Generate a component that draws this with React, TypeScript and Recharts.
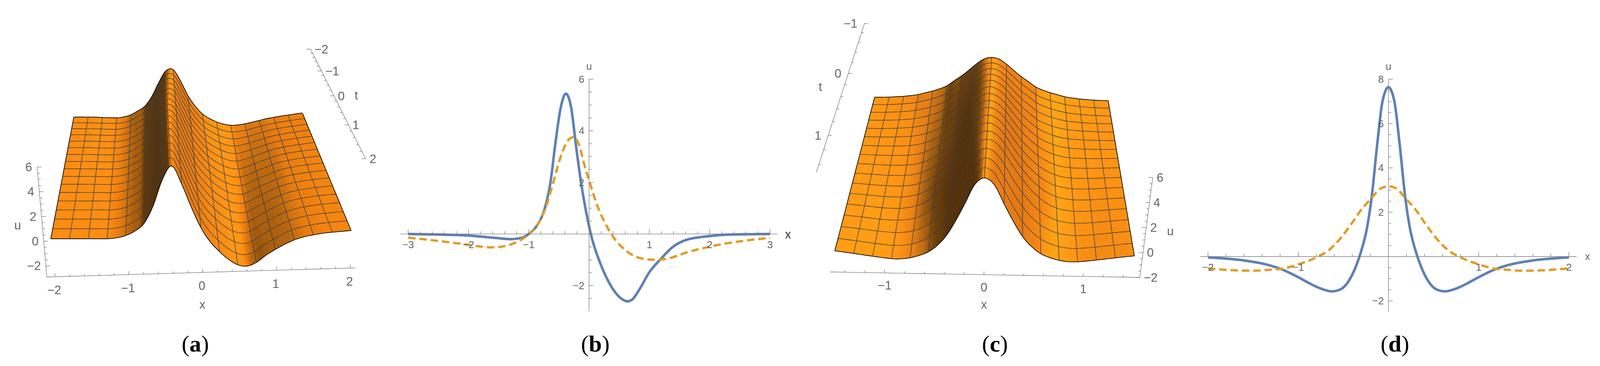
import React from 'react';
import { ComposedChart, Line, Scatter, ScatterChart, XAxis, YAxis } from 'recharts';

// panel (a): surface read at five t rows, far edge first
const xGridA = [-2, -1.875, -1.75, -1.625, -1.5, -1.375, -1.25, -1.125, -1, -0.875, -0.75, -0.625, -0.5, -0.375, -0.25, -0.125, 0, 0.125, 0.25, 0.375, 0.5, 0.625, 0.75, 0.875, 1, 1.125, 1.25, 1.375, 1.5, 1.625, 1.75, 1.875, 2];
const uA_tm2 = [0, -0.01, -0.03, -0.05, -0.1, -0.14, -0.16, -0.08, 0.14, 0.55, 1.05, 2.1, 3.6, 4.85, 4.95, 3.7, 2.1, 0.95, 0.1, -0.42, -0.8, -1.05, -1.2, -1.17, -1.07, -0.9, -0.73, -0.55, -0.42, -0.3, -0.2, -0.1, 0];
const uA_tm1 = [0, -0.01, -0.03, -0.05, -0.09, -0.12, -0.14, -0.07, 0.13, 0.5, 1.05, 2.2, 3.9, 5.1, 4.8, 3.3, 1.7, 0.6, -0.25, -0.8, -1.2, -1.5, -1.6, -1.45, -1.25, -1, -0.75, -0.55, -0.4, -0.27, -0.17, -0.08, 0];
const uA_t0 = [0, -0.01, -0.03, -0.05, -0.08, -0.11, -0.13, -0.07, 0.12, 0.48, 1.05, 2.3, 4.2, 5.35, 4.6, 2.9, 1.25, 0.2, -0.6, -1.2, -1.65, -1.9, -1.95, -1.7, -1.35, -1.05, -0.75, -0.5, -0.35, -0.23, -0.14, -0.06, 0];
const uA_t1 = [0, -0.02, -0.04, -0.06, -0.08, -0.1, -0.12, -0.07, 0.11, 0.46, 1.05, 2.35, 4.35, 5.5, 4.35, 2.55, 0.9, -0.2, -1, -1.65, -2.1, -2.3, -2.2, -1.8, -1.4, -1, -0.68, -0.45, -0.3, -0.19, -0.11, -0.05, 0];
const uA_t2 = [0, -0.02, -0.04, -0.06, -0.08, -0.1, -0.12, -0.07, 0.1, 0.45, 1.05, 2.45, 4.5, 5.6, 4.1, 2.2, 0.55, -0.6, -1.4, -2.05, -2.5, -2.63, -2.35, -1.8, -1.35, -0.95, -0.62, -0.4, -0.26, -0.15, -0.09, -0.04, 0];

// panel (c): symmetric, far edge first, values from the ridge side out
const xGridC = [-1.6, -1.5, -1.4, -1.3, -1.2, -1.1, -1, -0.9, -0.8, -0.7, -0.6, -0.5, -0.4, -0.3, -0.2, -0.1, 0, 0.1, 0.2, 0.3, 0.4, 0.5, 0.6, 0.7, 0.8, 0.9, 1, 1.1, 1.2, 1.3, 1.4, 1.5, 1.6];
const uC_far = [0, 0.01, 0.03, 0.08, 0.14, 0.23, 0.35, 0.55, 0.75, 1, 1.33, 1.88, 2.4, 3.02, 3.68, 4.2, 4.37];
const uC_mid1 = [0, -0.01, 0, 0.02, 0.05, 0.1, 0.17, 0.3, 0.5, 0.78, 1.15, 1.75, 2.4, 3.2, 4.05, 4.7, 4.95];
const uC_mid2 = [0, -0.03, -0.06, -0.09, -0.1, -0.1, -0.07, 0.02, 0.22, 0.55, 1, 1.6, 2.35, 3.3, 4.35, 5.1, 5.4];
const uC_mid3 = [0, -0.06, -0.12, -0.2, -0.27, -0.3, -0.3, -0.22, -0.05, 0.28, 0.8, 1.5, 2.4, 3.4, 4.6, 5.5, 5.8];
const uC_near = [0, -0.08, -0.18, -0.28, -0.38, -0.47, -0.55, -0.55, -0.45, -0.25, 0.05, 0.6, 1.4, 2.6, 4, 5.5, 6.05];

// panel (b)
const bBlueX = [-3, -2.5, -1.99, -1.6, -1.295, -1.12, -0.99, -0.86, -0.73, -0.644, -0.557, -0.47, -0.384, -0.297, -0.21, -0.124, -0.037, 0.05, 0.18, 0.31, 0.44, 0.55, 0.635, 0.72, 0.83, 1, 1.18, 1.395, 1.61, 2, 2.35, 3];
const bBlueU = [0, -0.02, -0.06, -0.14, -0.2, -0.15, 0.02, 0.34, 1.03, 1.94, 3.54, 4.9, 5.44, 4.9, 3.3, 1.86, 0.72, -0.19, -1.1, -1.79, -2.28, -2.53, -2.61, -2.53, -2.17, -1.48, -0.99, -0.49, -0.23, -0.08, -0.02, 0];
const bOrangeX = [-3, -2.64, -2.12, -1.6, -1.38, -1.165, -0.99, -0.86, -0.73, -0.6, -0.47, -0.34, -0.254, -0.167, -0.08, 0.03, 0.136, 0.267, 0.4, 0.614, 0.874, 1.09, 1.31, 1.61, 2, 2.48, 3];
const bOrangeU = [-0.14, -0.23, -0.38, -0.52, -0.46, -0.27, 0, 0.34, 0.95, 1.94, 3, 3.65, 3.76, 3.46, 2.7, 1.86, 1.1, 0.42, -0.11, -0.65, -0.95, -1, -0.95, -0.72, -0.49, -0.29, -0.15];
const bXLabels = [-3, -2, -1, 1, 2, 3];
const bULabels = [-2, 2, 4, 6];

// panel (d)
const dBlueX = [-2, -1.594, -1.36, -1.18, -1, -0.86, -0.74, -0.625, -0.536, -0.448, -0.36, -0.3, -0.24, -0.184, -0.125, -0.066, 0, 0.066, 0.125, 0.184, 0.24, 0.3, 0.36, 0.448, 0.536, 0.625, 0.74, 0.86, 1, 1.18, 1.36, 1.594, 2];
const dBlueU = [-0.04, -0.18, -0.35, -0.58, -0.93, -1.24, -1.46, -1.57, -1.49, -1.15, -0.44, 0.27, 1.24, 2.74, 5.04, 7, 7.64, 7, 5.04, 2.74, 1.24, 0.27, -0.44, -1.15, -1.49, -1.57, -1.46, -1.24, -0.93, -0.58, -0.35, -0.18, -0.04];
const dOrangeX = [-2, -1.8, -1.5, -1.3, -1.18, -1, -0.8, -0.654, -0.536, -0.42, -0.3, -0.184, -0.095, 0, 0.095, 0.184, 0.3, 0.42, 0.536, 0.654, 0.8, 1, 1.18, 1.3, 1.5, 1.8, 2];
const dOrangeU = [-0.53, -0.6, -0.64, -0.59, -0.55, -0.35, -0.04, 0.31, 0.8, 1.42, 2.12, 2.65, 3.05, 3.17, 3.05, 2.65, 2.12, 1.42, 0.8, 0.31, -0.04, -0.35, -0.55, -0.59, -0.64, -0.6, -0.53];
const dXLabels = [-2, -1, 1, 2];
const dULabels = [-2, 2, 4, 6, 8];

const BLUE = '#5E81B5';
const ORANGE = '#E19C24';
const GREY = '#777777';
const TEXT = '#666666';
const MESH = '#3a3f44';
const SANS = '"Liberation Sans", Arial, sans-serif';

type Tick = { x: number; y: number; tx?: number; ty?: number; label?: string; lx?: number; ly?: number; anchor?: string };

const fmt = (v: number) => (v < 0 ? `\u2212${-v}` : `${v}`);
const lerp = (a: number, b: number, w: number) => a + (b - a) * w;

// one tick mark with its optional label, placed by the chart scales
const TickMark = (props: any) => {
  const { cx, cy, payload, fontSize } = props;
  const p: Tick = payload;
  return (
    <g>
      {p.tx || p.ty ? <line x1={cx} y1={cy} x2={cx + (p.tx || 0)} y2={cy + (p.ty || 0)} stroke={GREY} strokeWidth={1.3} /> : null}
      {p.label ? (
        <text x={cx + (p.lx || 0)} y={cy + (p.ly || 0)} textAnchor={(p.anchor as any) || 'middle'} fontSize={fontSize} fontFamily={SANS} fill={TEXT}>
          {p.label}
        </text>
      ) : null}
    </g>
  );
};

const NoDot = () => <g />;

const steps = (from: number, to: number, step: number) => {
  const out: number[] = [];
  const n = Math.round((to - from) / step);
  for (let i = 0; i <= n; i++) out.push(from + (i * (to - from)) / n);
  return out;
};

function Plot2D({ left, top, width, height, x0, y0, xUnit, yUnit, xEnds, uEnds, xMinor, xLabels, uLabels, blue, orange, xName, uName }: any) {
  const xAxisPts: Tick[] = [{ x: xEnds[0], y: 0 }];
  steps(xMinor[0], xMinor[1], xMinor[2]).forEach((v) => {
    if (Math.abs(v) < 1e-6) return;
    const major = xLabels.some((l: number) => Math.abs(l - v) < 1e-6);
    xAxisPts.push({ x: v, y: 0, ty: major ? -12 : -7, label: major ? fmt(v) : undefined, ly: 36 });
  });
  xAxisPts.push({ x: xEnds[1], y: 0 });
  const uAxisPts: Tick[] = [{ x: 0, y: uEnds[0] }];
  steps(uEnds[0], uEnds[1], 0.5).forEach((v) => {
    if (Math.abs(v) < 1e-6 || v === uEnds[0]) return;
    const major = uLabels.includes(v);
    uAxisPts.push({ x: 0, y: v, tx: major ? 11 : 7, label: major ? fmt(v) : undefined, lx: -12, ly: 9, anchor: 'end' });
  });
  uAxisPts.push({ x: 0, y: uEnds[1] });
  const names: Tick[] = [
    { x: xName, y: 0, label: 'x', ly: 8 },
    { x: 0, y: uName, label: 'u', ly: 8 },
  ];
  const blueData = blue[0].map((x: number, i: number) => ({ x, y: blue[1][i] }));
  const orangeData = orange[0].map((x: number, i: number) => ({ x, y: orange[1][i] }));
  return (
    <div style={{ position: 'absolute', left, top }}>
      <ComposedChart width={width} height={height} margin={{ top: 0, right: 0, bottom: 0, left: 0 }}>
        <XAxis hide type="number" dataKey="x" domain={[(left - x0) / xUnit, (left + width - x0) / xUnit]} />
        <YAxis hide type="number" dataKey="y" domain={[(y0 - top - height) / yUnit, (y0 - top) / yUnit]} />
        <Scatter data={xAxisPts} line={{ stroke: GREY, strokeWidth: 1.3 }} shape={<TickMark fontSize={26} />} isAnimationActive={false} />
        <Scatter data={uAxisPts} line={{ stroke: GREY, strokeWidth: 1.3 }} shape={<TickMark fontSize={26} />} isAnimationActive={false} />
        <Scatter data={names} shape={<TickMark fontSize={26} />} isAnimationActive={false} />
        <Line data={blueData} dataKey="y" type="monotone" stroke={BLUE} strokeWidth={6.5} dot={false} isAnimationActive={false} />
        <Line data={orangeData} dataKey="y" type="monotone" stroke={ORANGE} strokeWidth={6} strokeDasharray="19 10" dot={false} isAnimationActive={false} />
      </ComposedChart>
    </div>
  );
}

// ---- 3D panels: Recharts has no 3D, so the (x, t, u) table is projected to the plane here
type View = {
  a: number; // far/near perspective ratio
  fl: number[]; fr: number[]; nl: number[]; nr: number[]; // u=0 corners of the surface
  scale: number; // px per u on the near edge
  v: number[]; // vanishing point of the u direction
};

const depth = (view: View, s: number) => (view.a * s) / (1 - (1 - view.a) * s);

function project(view: View, f: number, s: number, u: number) {
  const q = depth(view, s);
  const lx = lerp(view.fl[0], view.nl[0], q);
  const ly = lerp(view.fl[1], view.nl[1], q);
  const rx = lerp(view.fr[0], view.nr[0], q);
  const ry = lerp(view.fr[1], view.nr[1], q);
  const px = lerp(lx, rx, f);
  const py = lerp(ly, ry, f);
  const dx = px - view.v[0];
  const dy = py - view.v[1];
  const len = Math.hypot(dx, dy);
  const k = (view.scale * view.a) / (1 - (1 - view.a) * s);
  return { x: px + (dx / len) * u * k, y: py + (dy / len) * u * k };
}

const SUB = 4; // fine samples per table step, only for a smooth drawing
const ROW_CELLS = 16;

function catmull(row: number[], i: number, w: number) {
  const p0 = row[Math.max(0, i - 1)];
  const p1 = row[i];
  const p2 = row[Math.min(row.length - 1, i + 1)];
  const p3 = row[Math.min(row.length - 1, i + 2)];
  return 0.5 * (2 * p1 + (p2 - p0) * w + (2 * p0 - 5 * p1 + 4 * p2 - p3) * w * w + (3 * p1 - p0 - 3 * p2 + p3) * w * w * w);
}

function buildSurface(view: View, xGrid: number[], rows: number[][]) {
  const steps_ = xGrid.length - 1;
  const nx = steps_ * SUB + 1;
  const ny = ROW_CELLS + 1;
  const us: number[][] = [];
  const pts: { x: number; y: number }[] = [];
  for (let j = 0; j < ny; j++) {
    const s = j / ROW_CELLS;
    const k = Math.min(rows.length - 2, Math.floor(s * (rows.length - 1)));
    const w = s * (rows.length - 1) - k;
    const row = rows[k].map((v, i) => lerp(v, rows[k + 1][i], w));
    const line: number[] = [];
    for (let i = 0; i < nx; i++) {
      const c = Math.min(steps_ - 1, Math.floor(i / SUB));
      const u = catmull(row, c, i / SUB - c);
      line.push(u);
      pts.push(project(view, i / (nx - 1), s, u));
    }
    us.push(line);
  }
  return { nx, ny, us, pts, dx: (xGrid[1] - xGrid[0]) / SUB };
}

function rampColor(ramp: number[][], slope: number) {
  if (slope <= ramp[0][0]) return `rgb(${ramp[0].slice(1).join(',')})`;
  for (let i = 1; i < ramp.length; i++) {
    if (slope <= ramp[i][0]) {
      const w = (slope - ramp[i - 1][0]) / (ramp[i][0] - ramp[i - 1][0]);
      return `rgb(${[1, 2, 3].map((c) => Math.round(lerp(ramp[i - 1][c], ramp[i][c], w))).join(',')})`;
    }
  }
  return `rgb(${ramp[ramp.length - 1].slice(1).join(',')})`;
}

function surfaceLine(surf: any, ramp: number[][]) {
  return (props: any) => {
    const p = props.points;
    if (!p) return <g />;
    const { nx, ny, us, dx } = surf;
    const at = (i: number, j: number) => p[j * nx + i];
    const cells = [];
    for (let j = 0; j < ny - 1; j++) {
      for (let i = 0; i < nx - 1; i++) {
        const slope = (us[j][i + 1] + us[j + 1][i + 1] - us[j][i] - us[j + 1][i]) / (2 * dx);
        const c = rampColor(ramp, slope);
        const a = at(i, j);
        const b = at(i + 1, j);
        const d = at(i + 1, j + 1);
        const e = at(i, j + 1);
        cells.push(<path key={`c${j}-${i}`} d={`M${a.x} ${a.y}L${b.x} ${b.y}L${d.x} ${d.y}L${e.x} ${e.y}Z`} fill={c} stroke={c} strokeWidth={0.8} />);
      }
    }
    const lines = [];
    for (let j = 0; j < ny; j++) {
      const d = Array.from({ length: nx }, (_, i) => at(i, j)).map((q, i) => `${i ? 'L' : 'M'}${q.x} ${q.y}`).join('');
      const rim = j === 0 || j === ny - 1;
      lines.push(<path key={`r${j}`} d={d} fill="none" stroke={rim ? '#000' : MESH} strokeWidth={rim ? 1.7 : 1.4} />);
    }
    for (let i = 0; i < nx; i += 2 * SUB) {
      const d = Array.from({ length: ny }, (_, j) => at(i, j)).map((q, j) => `${j ? 'L' : 'M'}${q.x} ${q.y}`).join('');
      const rim = i === 0 || i === nx - 1;
      lines.push(<path key={`v${i}`} d={d} fill="none" stroke={rim ? '#000' : MESH} strokeWidth={rim ? 1.7 : 1.4} />);
    }
    return <g>{cells}{lines}</g>;
  };
}

function axisPts(from: number[], to: number[], vFrom: number, vTo: number, minor: number[], majors: number[], tick: number[], minorTick: number[], lab: any, warp?: (w: number) => number) {
  const out: Tick[] = [{ x: from[0], y: from[1] }];
  steps(minor[0], minor[1], minor[2]).forEach((v) => {
    const w0 = (v - vFrom) / (vTo - vFrom);
    const w = warp ? warp(w0) : w0;
    const major = majors.some((m) => Math.abs(m - v) < 1e-6);
    const t = major ? tick : minorTick;
    out.push({
      x: lerp(from[0], to[0], w),
      y: lerp(from[1], to[1], w),
      tx: t[0],
      ty: t[1],
      label: major ? fmt(Math.round(v)) : undefined,
      ...lab,
    });
  });
  out.push({ x: to[0], y: to[1] });
  return out;
}

function Surface3D({ left, width, height, surf, ramp, axes, names }: any) {
  return (
    <div style={{ position: 'absolute', left, top: 0 }}>
      <ScatterChart width={width} height={height} margin={{ top: 0, right: 0, bottom: 0, left: 0 }}>
        <XAxis hide type="number" dataKey="x" domain={[left, left + width]} />
        <YAxis hide type="number" dataKey="y" domain={[0, height]} reversed />
        {axes.map((a: Tick[], i: number) => (
          <Scatter key={i} data={a} line={{ stroke: GREY, strokeWidth: 1.3 }} shape={<TickMark fontSize={31} />} isAnimationActive={false} />
        ))}
        <Scatter data={surf.pts} line={surfaceLine(surf, ramp)} shape={NoDot} isAnimationActive={false} />
        <Scatter data={names} shape={<TickMark fontSize={31} />} isAnimationActive={false} />
      </ScatterChart>
    </div>
  );
}

const viewA: View = { a: 0.74, fl: [189, 300], fr: [774, 289.5], nl: [130, 612], nr: [899, 591], scale: 31.9, v: [510, 5100] };
const viewC: View = { a: 0.76, fl: [2239, 249], fr: [2837, 258], nl: [2137, 643], nr: [2904, 656], scale: 32, v: [2520, 3800] };

const mirrored = (half: number[]) => [...half, ...half.slice(0, -1).reverse()];

const surfA = buildSurface(viewA, xGridA, [uA_tm2, uA_tm1, uA_t0, uA_t1, uA_t2]);
const surfC = buildSurface(viewC, xGridC, [uC_far, uC_mid1, uC_mid2, uC_mid3, uC_near].map(mirrored));

// shade by du/dx: [slope, r, g, b]
const rampA = [[-16, 230, 120, 18], [-8, 240, 130, 18], [-3, 255, 150, 20], [-0.5, 255, 148, 20], [0, 250, 138, 16], [1, 235, 125, 15], [2.5, 185, 103, 15], [4, 160, 88, 13], [7, 100, 58, 10], [16, 85, 48, 8]];
const rampC = [[-16, 235, 125, 20], [-10, 225, 120, 20], [-5, 245, 135, 20], [-2, 255, 165, 20], [0, 255, 150, 20], [0.5, 252, 145, 18], [2, 228, 126, 22], [3.5, 170, 98, 18], [6, 110, 64, 12], [10, 85, 48, 8]];

const axesA = [
  axisPts([120, 710], [910, 686.6], -2.11, 2.07, [-2, 2, 0.2], [-2, -1, 0, 1, 2], [0, -9], [0, -5], { lx: -2, ly: 45 }),
  axisPts([95, 428], [120, 710], 6, -2.9, [6, -2, -0.5], [6, 4, 2, 0, -2], [11, 0], [6, 0], { lx: -13, ly: 11, anchor: 'end' }),
  axisPts([795, 126], [936, 407], -2, 2, [-2, 2, 0.2], [-2, -1, 0, 1, 2], [-10, 0], [-6, 0], { lx: 10, ly: 11, anchor: 'start' }, (w) => depth(viewA, w)),
];
const namesA: Tick[] = [
  { x: 45, y: 588, label: 'u' },
  { x: 518, y: 791, label: 'x' },
  { x: 912, y: 255, label: 't' },
];

const axesC = [
  axisPts([2125, 697], [2918, 711], -1.55, 1.57, [-1.4, 1.4, 0.2], [-1, 0, 1], [0, -8], [0, -5], { lx: 0, ly: 43 }),
  axisPts([2951, 455], [2918, 711], 6, -2, [6, -2, -0.5], [6, 4, 2, 0, -2], [-11, 0], [-6, 0], { lx: 10, ly: 11, anchor: 'start' }),
  axisPts([2213, 60], [2090, 441], -1, 1.5, [-1, 1.4, 0.2], [-1, 0, 1], [9, 0], [6, 0], { lx: -18, ly: 11, anchor: 'end' }, (w) => depth(viewC, w)),
];
const namesC: Tick[] = [
  { x: 2996, y: 603, label: 'u' },
  { x: 2519, y: 791, label: 'x' },
  { x: 2100, y: 233, label: 't' },
  { x: 2017, y: 612, label: 'x' },
];

const captions = [
  { cx: 500, letter: 'a' },
  { cx: 1524, letter: 'b' },
  { cx: 2547, letter: 'c' },
  { cx: 3571, letter: 'd' },
];

export default function App() {
  return (
    <div style={{ position: 'absolute', left: 0, top: 0, width: 4115, height: 938, background: '#fff', overflow: 'hidden' }}>
      <Surface3D left={0} width={1000} height={850} surf={surfA} ramp={rampA} axes={axesA} names={namesA} />
      <Plot2D
        left={1000} top={150} width={1050} height={700} x0={1508} y0={599.7} xUnit={154.4} yUnit={66.1}
        xEnds={[-3.13, 3.12]} uEnds={[-3, 6]} xMinor={[-3, 3, 0.2]} xLabels={bXLabels} uLabels={bULabels}
        blue={[bBlueX, bBlueU]} orange={[bOrangeX, bOrangeU]} xName={3.3} uName={6.49}
      />
      <Surface3D left={2000} width={1050} height={850} surf={surfC} ramp={rampC} axes={axesC} names={namesC} />
      <Plot2D
        left={3050} top={150} width={1065} height={700} x0={3554.4} y0={657.5} xUnit={231} yUnit={56.8}
        xEnds={[-2.085, 2.085]} uEnds={[-2.5, 8]} xMinor={[-2, 2, 0.2]} xLabels={dXLabels} uLabels={dULabels}
        blue={[dBlueX, dBlueU]} orange={[dOrangeX, dOrangeU]} xName={2.206} uName={8.565}
      />
      {captions.map((c) => (
        <div key={c.letter} style={{ position: 'absolute', left: c.cx - 100, width: 200, top: 846, textAlign: 'center', fontFamily: '"Liberation Serif", serif', fontSize: 60, lineHeight: '70px', color: '#000' }}>
          (<b>{c.letter}</b>)
        </div>
      ))}
    </div>
  );
}
